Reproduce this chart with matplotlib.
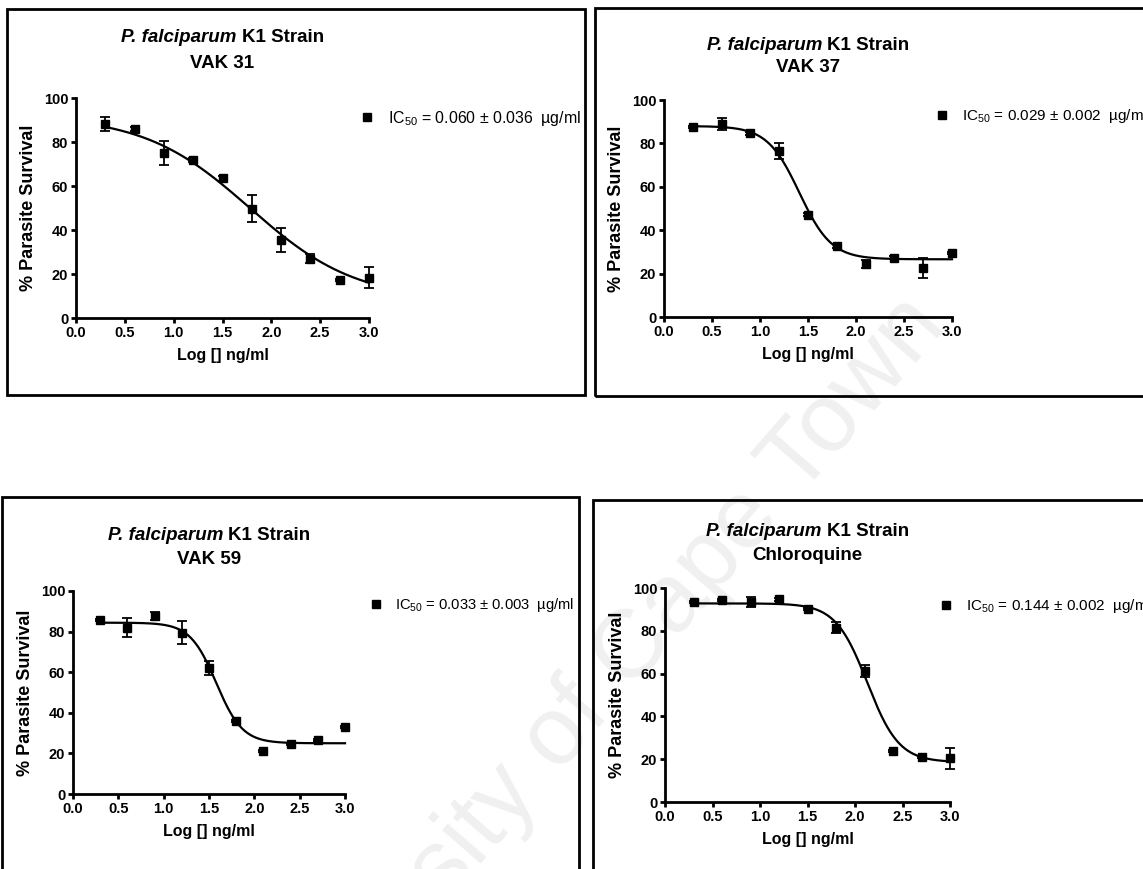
import matplotlib
matplotlib.use('Agg')
import matplotlib.pyplot as plt
from matplotlib.patches import Rectangle
from matplotlib.offsetbox import TextArea, HPacker, AnchoredOffsetbox
import numpy as np

plt.rcParams['font.family'] = ['Liberation Sans', 'DejaVu Sans']
plt.rcParams['mathtext.fontset'] = 'custom'
plt.rcParams['mathtext.rm'] = 'Liberation Sans'
plt.rcParams['mathtext.it'] = 'Liberation Sans:italic'
plt.rcParams['mathtext.bf'] = 'Liberation Sans:bold'

# log concentration (ng/ml) used for every compound
log_conc = [0.3, 0.6, 0.9, 1.2, 1.5, 1.8, 2.1, 2.4, 2.7, 3.0]

# % parasite survival (mean, SEM)
vak31_mean = [88.2, 86.0, 75.0, 71.7, 63.5, 49.7, 35.5, 27.0, 17.3, 18.3]
vak31_err = [3.0, 1.0, 5.3, 1.0, 1.0, 6.0, 5.3, 2.0, 0.5, 4.7]
vak37_mean = [87.6, 88.8, 84.6, 76.4, 47.2, 32.8, 24.4, 27.4, 22.6, 29.4]
vak37_err = [0.5, 2.8, 0.8, 3.8, 0.5, 1.0, 2.0, 0.5, 4.5, 0.5]
vak59_mean = [85.9, 82.0, 87.7, 79.5, 62.0, 36.1, 21.2, 24.4, 26.6, 32.8]
vak59_err = [0.5, 4.5, 2.0, 5.5, 3.5, 0.5, 0.5, 0.5, 0.5, 0.5]
cq_mean = [93.3, 94.4, 93.3, 94.7, 90.2, 81.5, 61.4, 23.8, 20.9, 20.4]
cq_err = [0.5, 0.5, 2.3, 0.8, 0.5, 2.4, 2.8, 0.5, 0.5, 4.8]

# sigmoidal dose-response fit: top, bottom, logEC50, hill slope
vak31_fit = [92.0, 8.0, 1.78, 0.8]
vak37_fit = [88.0, 26.6, 1.41, 2.6]
vak59_fit = [84.4, 25.0, 1.58, 3.0]
cq_fit = [92.8, 18.6, 2.13, 2.6]

names = ['VAK 31', 'VAK 37', 'VAK 59', 'Chloroquine']
ic50_labels = ['0.060 \u00b1 0.036', '0.029 \u00b1 0.002', '0.033 \u00b1 0.003', '0.144 \u00b1 0.002']

W, H = 1143, 869
fig = plt.figure(figsize=(W / 100, H / 100), dpi=100)

def fx(px):
    return px / W

def fy(py):
    return 1 - py / H

# layout in pixels: axes (left, top, right, bottom), frame box, title line y's, legend marker, legend size
layout = [
    dict(axes=(76, 98, 369, 318), box=(7, 9, 585, 395), title=(38, 64), leg=(367, 118), lfs=11.4),
    dict(axes=(664, 100, 952, 317), box=(595, 8, 1160, 396), title=(45, 68), leg=(942, 116), lfs=11),
    dict(axes=(73, 591, 345, 794), box=(2, 497, 579, 890), title=(536, 559), leg=(376, 605), lfs=10.6),
    dict(axes=(665, 588, 950, 802), box=(593, 500, 1160, 890), title=(532, 555), leg=(946, 606), lfs=11),
]

series = [
    (vak31_mean, vak31_err, vak31_fit),
    (vak37_mean, vak37_err, vak37_fit),
    (vak59_mean, vak59_err, vak59_fit),
    (cq_mean, cq_err, cq_fit),
]

# watermark
fig.text(fx(585), fy(705), 'University of Cape Town', rotation=49, fontsize=70,
         color='#f0f0f0', ha='center', va='center', zorder=-5)

for i in range(4):
    lay = layout[i]
    mean, err, fit = series[i]
    l, t, r, b = lay['axes']
    ax = fig.add_axes([fx(l), fy(b), (r - l) / W, (b - t) / H])
    ax.patch.set_visible(False)

    xs = np.linspace(log_conc[0], log_conc[-1], 300)
    top, bot, ec, hill = fit
    ax.plot(xs, bot + (top - bot) / (1 + 10 ** ((xs - ec) * hill)), color='k', lw=1.6, clip_on=False)
    ax.errorbar(log_conc, mean, yerr=err, fmt='none', ecolor='k', elinewidth=1.3,
                capsize=3.5, capthick=1.3, clip_on=False)
    ax.plot(log_conc, mean, 's', color='k', ms=6, clip_on=False,
            label='IC$_{\\mathregular{50}}$ = ' + ic50_labels[i] + '  \u00b5g/ml')

    ax.set_xlim(0, 3.0)
    ax.set_ylim(0, 100)
    ax.set_xticks(np.arange(0, 3.01, 0.5))
    ax.set_xticklabels(['%.1f' % v for v in np.arange(0, 3.01, 0.5)])
    ax.set_yticks(range(0, 101, 20))
    for s in ['top', 'right']:
        ax.spines[s].set_visible(False)
    for s in ['left', 'bottom']:
        ax.spines[s].set_linewidth(2)
    ax.tick_params(direction='out', length=3.5, width=2, labelsize=10.5, pad=2)
    for lab in ax.get_xticklabels() + ax.get_yticklabels():
        lab.set_fontweight('bold')
    ax.set_xlabel('Log [] ng/ml', fontsize=11.5, fontweight='bold', labelpad=6)
    ax.set_ylabel('% Parasite Survival', fontsize=13, fontweight='bold', labelpad=5)

    lx, ly = lay['leg']
    ax.legend(loc='center left', bbox_to_anchor=(fx(lx - 7.5), fy(ly)),
              bbox_transform=fig.transFigure, frameon=False, fontsize=lay['lfs'],
              handlelength=1.0, handletextpad=0.8, borderpad=0, borderaxespad=0,
              markerscale=0.85)

    # title, first line partly italic
    cx = (l + r) / 2
    ta1 = TextArea('P. falciparum', textprops=dict(fontsize=13.5, fontweight='bold', fontstyle='italic'))
    ta2 = TextArea('K1 Strain', textprops=dict(fontsize=13.5, fontweight='bold'))
    pack = HPacker(children=[ta1, ta2], align='baseline', pad=0, sep=3.8)
    ab = AnchoredOffsetbox(loc='center', child=pack, pad=0, borderpad=0, frameon=False,
                           bbox_to_anchor=(fx(cx), fy(lay['title'][0])),
                           bbox_transform=fig.transFigure)
    fig.add_artist(ab)
    fig.text(fx(cx), fy(lay['title'][1]), names[i], ha='center', va='center',
             fontsize=13.5, fontweight='bold')

    bl, bt, br, bb = lay['box']
    fig.add_artist(Rectangle((fx(bl), fy(bb)), (br - bl) / W, (bb - bt) / H,
                             transform=fig.transFigure, fill=False, lw=2, ec='k'))

fig.savefig('out.png', dpi=100)
